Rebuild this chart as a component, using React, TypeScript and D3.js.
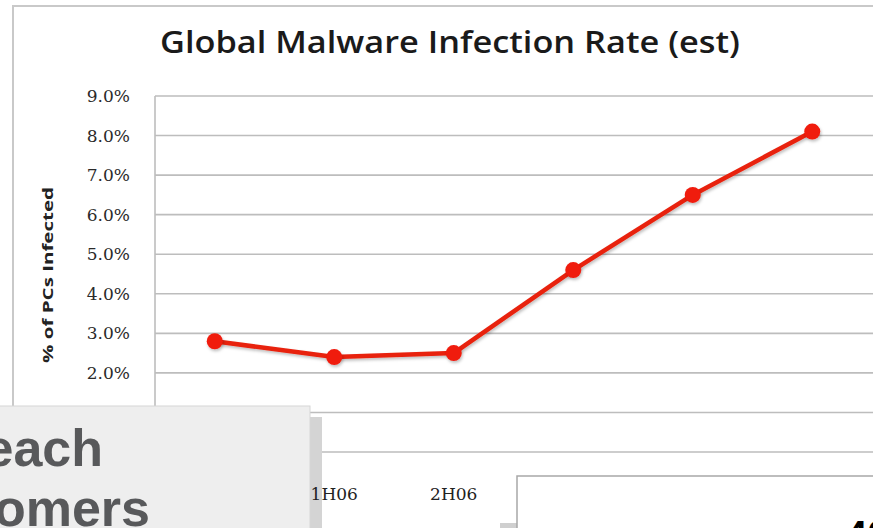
import React from "react";
import * as d3 from "d3";

const categories = ["2H05", "1H06", "2H06", "1H07", "2H07", "1H08"];
const infectionRate = [2.8, 2.4, 2.5, 4.6, 6.5, 8.1];
const yTicks = [0, 1, 2, 3, 4, 5, 6, 7, 8, 9];
const chartTitle = "Global Malware Infection Rate (est)";
const yAxisTitle = "% of PCs Infected";
const overlayLines = ["each", "omers"];
const pageNumber = "40";

const W = 873;
const H = 528;

export default function App() {
  const x = d3.scaleBand<string>().domain(categories).range([155, 872]);
  const y = d3.scaleLinear().domain([0, 9]).range([452, 96]);
  const cx = (c: string) => (x(c) ?? 0) + x.bandwidth() / 2;
  const line = d3
    .line<number>()
    .x((_, i) => cx(categories[i]))
    .y((d) => y(d));

  return (
    <svg
      width={W}
      height={H}
      style={{ position: "absolute", left: 0, top: 0, background: "#fff" }}
    >
      <defs>
        <filter id="sh" x="-50%" y="-50%" width="200%" height="200%">
          <feDropShadow dx="1" dy="2" stdDeviation="1.5" floodColor="#000" floodOpacity="0.25" />
        </filter>
      </defs>
      <rect x={0} y={0} width={W} height={H} fill="#fff" />
      {/* outer chart frame */}
      <rect x={13} y={6} width={W + 20} height={H + 20} fill="none" stroke="#c9c9c9" strokeWidth={2} />

      {/* title */}
      <text
        x={450}
        y={53}
        textAnchor="middle"
        fontFamily="'Open Sans', sans-serif"
        fontWeight={600}
        fontSize={31}
        fill="#1a1a1a"
        textLength={580}
        lengthAdjust="spacingAndGlyphs"
      >
        {chartTitle}
      </text>

      {/* gridlines */}
      {yTicks.map((t) => (
        <line key={t} x1={155} x2={W + 10} y1={y(t)} y2={y(t)} stroke="#bdbdbd" strokeWidth={1.6} />
      ))}
      <line x1={155} x2={155} y1={y(9)} y2={y(0)} stroke="#bdbdbd" strokeWidth={1.6} />

      {/* y tick labels */}
      {yTicks.map((t) => (
        <text
          key={t}
          x={130}
          y={y(t)}
          dy="0.36em"
          textAnchor="end"
          fontFamily="'DejaVu Serif', serif"
          fontSize={17}
          fill="#2a2a2a"
        >
          {t.toFixed(1) + "%"}
        </text>
      ))}

      {/* y axis title */}
      <text
        transform={`translate(53,275) rotate(-90)`}
        textAnchor="middle"
        fontFamily="'Open Sans', sans-serif"
        fontWeight={700}
        fontSize={15}
        fill="#222"
        textLength={176}
        lengthAdjust="spacingAndGlyphs"
      >
        {yAxisTitle}
      </text>

      {/* series */}
      <path d={line(infectionRate) ?? ""} fill="none" stroke="#e8200c" strokeWidth={4.5} strokeLinejoin="round" filter="url(#sh)" />
      {infectionRate.map((v, i) => (
        <circle key={i} cx={cx(categories[i])} cy={y(v)} r={8} fill="#f01a0a" filter="url(#sh)" />
      ))}

      {/* shadow band of the grey overlay (under the axis labels) */}
      <rect x={310} y={417} width={12} height={130} fill="#d4d4d4" />

      {/* x labels */}
      {categories.map((c) => (
        <text
          key={c}
          x={cx(c)}
          y={500}
          textAnchor="middle"
          fontFamily="'DejaVu Serif', serif"
          fontSize={17}
          fill="#222"
        >
          {c}
        </text>
      ))}

      {/* overlay: grey box bottom-left */}
      <rect x={-2} y={406} width={312} height={130} fill="#eeeeee" stroke="#d6d6d6" strokeWidth={1} />
      {overlayLines.map((s, i) => (
        <text
          key={s}
          x={i === 0 ? 103 : 150}
          y={466 + i * 60}
          textAnchor="end"
          fontFamily="'Liberation Sans', Arial, sans-serif"
          fontWeight={700}
          fontSize={52}
          fill="#58595b"
        >
          {s}
        </text>
      ))}

      {/* overlay: white box bottom-right */}
      <rect x={500} y={523} width={20} height={10} fill="#cfcfcf" />
      <rect x={517} y={476} width={420} height={100} fill="#fff" stroke="#a8a8a8" strokeWidth={1.5} />
      <text
        x={846}
        y={548}
        fontFamily="'Liberation Sans', Arial, sans-serif"
        fontWeight={700}
        fontSize={38}
        fill="#000"
      >
        {pageNumber}
      </text>
    </svg>
  );
}
